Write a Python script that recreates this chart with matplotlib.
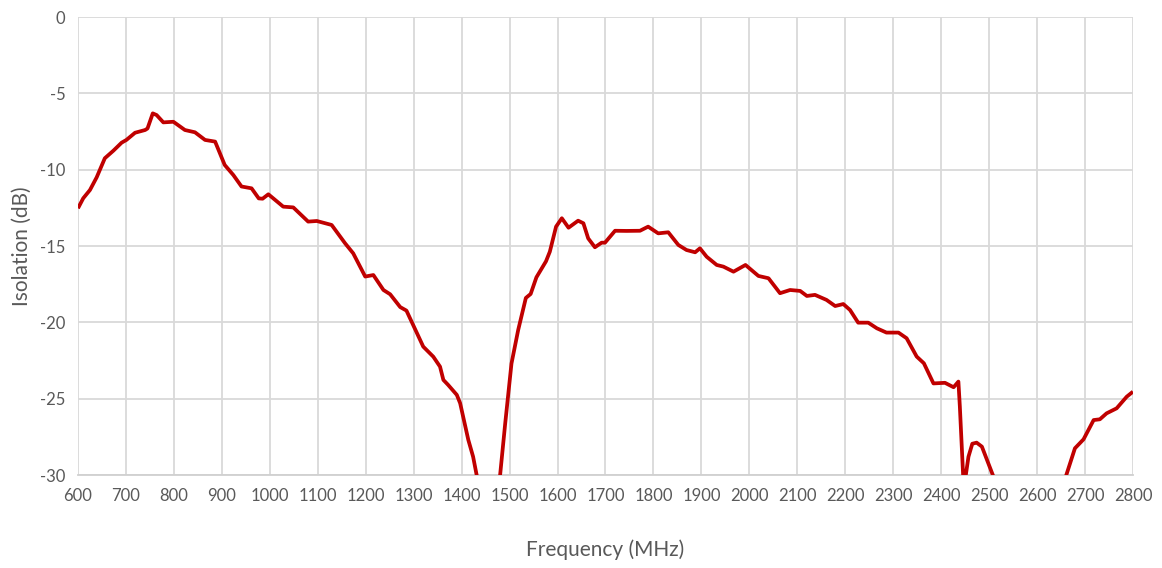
import matplotlib.pyplot as plt

plt.rcParams['font.family'] = ['Lato', 'DejaVu Sans']
plt.rcParams['axes.unicode_minus'] = False

# Isolation vs frequency (values below -30 are clipped by the axis)
freq = [600, 611, 625, 639, 656, 674, 691, 701, 719, 740, 745, 756, 764, 778, 799,
        823, 844, 865, 886, 906, 924, 941, 962, 977, 985, 997, 1028, 1049, 1080, 1098,
        1129, 1157, 1174, 1199, 1216, 1237, 1251, 1272, 1285, 1320, 1341, 1355, 1362,
        1372, 1390, 1397, 1414, 1424, 1432, 1455, 1480, 1491, 1504, 1518, 1534, 1544,
        1556, 1576, 1584, 1597, 1609, 1623, 1643, 1654, 1664, 1678, 1692, 1699, 1720,
        1744, 1772, 1789, 1810, 1831, 1852, 1869, 1887, 1897, 1911, 1932, 1946, 1967,
        1992, 2019, 2040, 2064, 2085, 2106, 2120, 2137, 2161, 2179, 2196, 2210, 2227,
        2248, 2266, 2286, 2311, 2328, 2349, 2364, 2384, 2408, 2426, 2436, 2439, 2446,
        2448, 2451, 2457, 2465, 2474, 2485, 2509, 2580, 2660, 2679, 2697, 2718, 2731,
        2745, 2766, 2787, 2800]
isolation = [-12.53, -11.87, -11.33, -10.5, -9.25, -8.75, -8.23, -8.05, -7.58, -7.4,
             -7.3, -6.31, -6.42, -6.9, -6.86, -7.4, -7.55, -8.05, -8.16, -9.69, -10.35,
             -11.1, -11.22, -11.88, -11.9, -11.61, -12.42, -12.47, -13.4, -13.36, -13.62,
             -14.82, -15.48, -17.0, -16.9, -17.88, -18.16, -19.0, -19.23, -21.59, -22.25,
             -22.9, -23.77, -24.1, -24.75, -25.3, -27.7, -28.8, -30.1, -40.0, -30.1,
             -26.6, -22.7, -20.5, -18.4, -18.14, -17.05, -16.0, -15.37, -13.73, -13.18,
             -13.8, -13.34, -13.51, -14.5, -15.08, -14.78, -14.78, -14.0, -14.01, -14.0,
             -13.73, -14.17, -14.1, -14.93, -15.26, -15.41, -15.15, -15.7, -16.24, -16.35,
             -16.68, -16.24, -16.96, -17.11, -18.09, -17.88, -17.94, -18.27, -18.2,
             -18.53, -18.93, -18.8, -19.19, -20.02, -20.02, -20.39, -20.67, -20.67,
             -21.04, -22.24, -22.68, -24.0, -23.96, -24.25, -23.88, -25.5, -30.1, -31.0,
             -30.1, -28.8, -27.95, -27.88, -28.14, -30.1, -40.0, -30.1, -28.25, -27.66,
             -26.4, -26.35, -25.96, -25.63, -24.87, -24.54]

x_ticks = list(range(600, 2801, 100))
y_ticks = [0, -5, -10, -15, -20, -25, -30]

fig = plt.figure(figsize=(11.62, 5.68), dpi=100)
ax = fig.add_axes([0.0671, 0.1637, 0.9079, 0.8063])

ax.plot(freq, isolation, color='#C00000', linewidth=2.7, solid_joinstyle='round',
        solid_capstyle='butt', zorder=3)

ax.set_xlim(600, 2800)
ax.set_ylim(-30, 0)
ax.set_xticks(x_ticks)
ax.set_yticks(y_ticks)
ax.grid(True, color='#d9d9d9', linewidth=1.3)
ax.set_axisbelow(True)
ax.tick_params(length=0, labelsize=12, colors='#595959', pad=9)
for side in ['top', 'right', 'left']:
    ax.spines[side].set_visible(False)
ax.spines['bottom'].set_color('#d0d0d0')
ax.spines['bottom'].set_linewidth(1.3)

ax.set_xlabel('Frequency (MHz)', fontsize=15, color='#595959', labelpad=26)
ax.set_ylabel('Isolation (dB)', fontsize=15, color='#595959', labelpad=6)

fig.savefig('out.png', dpi=100)
